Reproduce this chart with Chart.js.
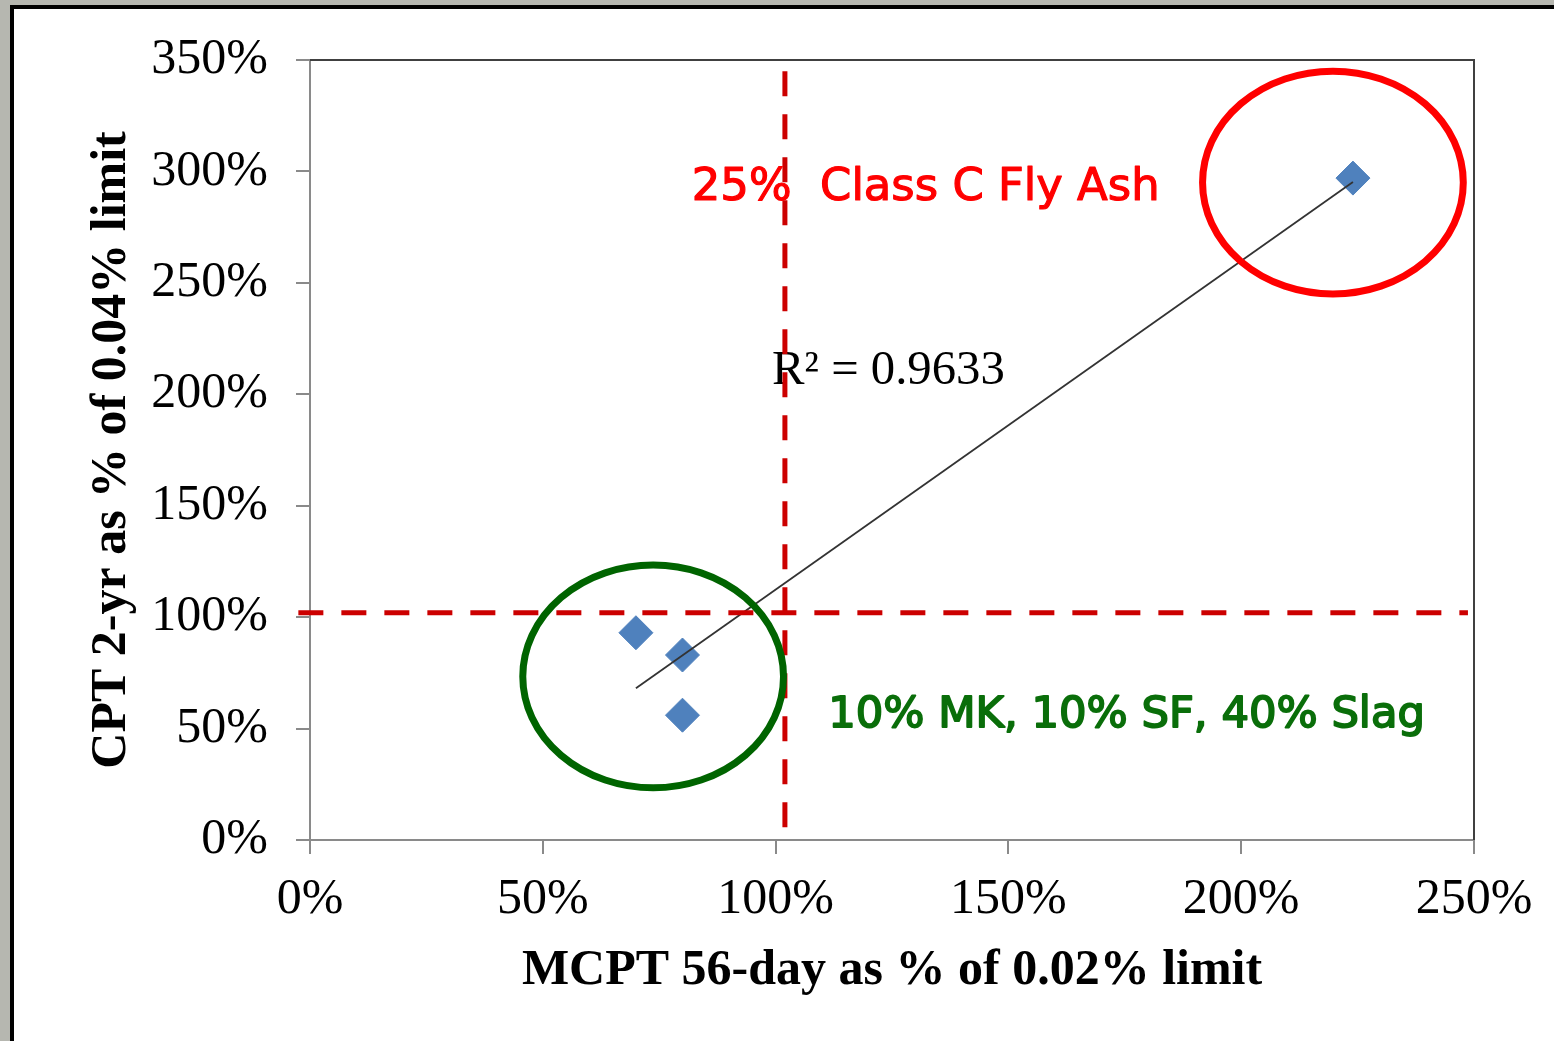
<!DOCTYPE html>
<html>
<head>
<meta charset="utf-8">
<script src="https://cdn.jsdelivr.net/npm/chart.js@4.4.0/dist/chart.umd.min.js"></script>
<style>
  html, body { margin: 0; padding: 0; background: #b6b7b0; overflow: hidden; }
  #frame { position: absolute; left: 10px; top: 5px; width: 1544px; height: 1036px; background: #fff;
           border-left: 4px solid #000; border-top: 4px solid #000; box-sizing: border-box; }
  #chart { position: absolute; left: 0; top: 0; }
</style>
</head>
<body>
<div id="frame"></div>
<canvas id="chart" width="1554" height="1041"></canvas>
<script>
// values (percent)
const mcpt56 = [70, 80, 80, 224];      // MCPT 56-day as % of 0.02% limit
const cpt2yr = [93, 83, 56, 297];      // CPT 2-yr as % of 0.04% limit
const xTicks = [0, 50, 100, 150, 200, 250];
const yTicks = [0, 50, 100, 150, 200, 250, 300, 350];

// red dashed limit lines
const vLimitX = [102, 102];
const vLimitY = [345, 0];
const hLimitX = [-2.5, 248.7];
const hLimitY = [102, 102];

const rSquaredText = 'R\u00b2 = 0.9633';

// linear trendline from the points
function trend(xs, ys) {
    const n = xs.length;
    const mx = xs.reduce((a, b) => a + b, 0) / n;
    const my = ys.reduce((a, b) => a + b, 0) / n;
    let sxy = 0, sxx = 0;
    xs.forEach((x, i) => { sxy += (x - mx) * (ys[i] - my); sxx += (x - mx) * (x - mx); });
    const slope = sxy / sxx;
    const icpt = my - slope * mx;
    const x0 = Math.min(...xs), x1 = Math.max(...xs);
    return [{ x: x0, y: icpt + slope * x0 }, { x: x1, y: icpt + slope * x1 }];
}

const toPts = (xs, ys) => xs.map((x, i) => ({ x: x, y: ys[i] }));

// ellipses and labels placed in data units
const ellipses = [
    { cx: 219.7, cy: 295, rx: 28, ry: 50, color: '#ff0000' },
    { cx: 73.7, cy: 73.4, rx: 28, ry: 50, color: '#006400' }
];
const labels = [
    { text: '25%  Class C Fly Ash', x: 82, y: 287, width: 468, font: '"DejaVu Sans"', color: '#ff0000', thick: 1.2, under: false },
    { text: '10% MK, 10% SF, 40% Slag', x: 111.3, y: 50.7, width: 597, font: '"DejaVu Sans"', color: '#0a6e0a', thick: 1.8, under: false },
    { text: rSquaredText, x: 99.2, y: 204.6, width: 233, font: '"Liberation Serif"', color: '#000', thick: 0, under: true }
];

function drawLabel(ctx, sx, sy, l) {
    ctx.font = '40px ' + l.font;
    const size = 40 * l.width / ctx.measureText(l.text).width;
    ctx.font = size + 'px ' + l.font;
    ctx.fillStyle = l.color;
    ctx.textBaseline = 'alphabetic';
    ctx.textAlign = 'left';
    const px = sx.getPixelForValue(l.x), py = sy.getPixelForValue(l.y);
    ctx.fillText(l.text, px, py);
    if (l.thick) {
        ctx.strokeStyle = l.color;
        ctx.lineWidth = l.thick;
        ctx.lineJoin = 'round';
        ctx.strokeText(l.text, px, py);
    }
}

const extras = {
    id: 'extras',
    beforeDatasetsDraw(chart) {
        const { ctx, chartArea: a, scales: { x, y } } = chart;
        ctx.save();
        // top and right frame of plot area
        ctx.strokeStyle = '#404040';
        ctx.lineWidth = 2;
        ctx.beginPath();
        ctx.moveTo(a.left, a.top);
        ctx.lineTo(a.right, a.top);
        ctx.lineTo(a.right, a.bottom);
        ctx.stroke();
        labels.filter(l => l.under).forEach(l => drawLabel(ctx, x, y, l));
        ctx.restore();
    },
    afterDatasetsDraw(chart) {
        const { ctx, scales: { x, y } } = chart;
        ctx.save();
        ellipses.forEach(e => {
            const cx = x.getPixelForValue(e.cx), cy = y.getPixelForValue(e.cy);
            const rx = Math.abs(x.getPixelForValue(e.cx + e.rx) - cx);
            const ry = Math.abs(y.getPixelForValue(e.cy + e.ry) - cy);
            ctx.beginPath();
            ctx.ellipse(cx, cy, rx, ry, 0, 0, Math.PI * 2);
            ctx.strokeStyle = e.color;
            ctx.lineWidth = 7;
            ctx.stroke();
        });
        labels.filter(l => !l.under).forEach(l => drawLabel(ctx, x, y, l));
        ctx.restore();
    }
};

const serif = 'Liberation Serif';

new Chart(document.getElementById('chart'), {
    type: 'scatter',
    data: {
        datasets: [
            {
                label: 'vertical limit',
                data: toPts(vLimitX, vLimitY),
                showLine: true, pointRadius: 0,
                borderColor: '#cc0000', borderWidth: 5, borderDash: [25, 18],
                clip: false, order: 0
            },
            {
                label: 'horizontal limit',
                data: toPts(hLimitX, hLimitY),
                showLine: true, pointRadius: 0,
                borderColor: '#cc0000', borderWidth: 5, borderDash: [25, 18],
                clip: false, order: 1
            },
            {
                label: 'trend',
                data: trend(mcpt56, cpt2yr),
                showLine: true, pointRadius: 0,
                borderColor: '#333333', borderWidth: 1.8,
                order: 2
            },
            {
                label: 'mixes',
                data: toPts(mcpt56, cpt2yr),
                pointStyle: 'rectRot', pointRadius: 17,
                backgroundColor: '#4f81bd', borderColor: '#4f81bd', borderWidth: 1,
                order: 3
            }
        ]
    },
    options: {
        responsive: false,
        animation: false,
        events: [],
        layout: { padding: { left: 0, top: 60, right: 80, bottom: 0 } },
        plugins: { legend: { display: false }, tooltip: { enabled: false } },
        scales: {
            x: {
                type: 'linear', min: 0, max: 250,
                afterBuildTicks: s => { s.ticks = xTicks.map(v => ({ value: v })); },
                afterFit: s => { s.height = 201; },
                ticks: {
                    callback: v => v + '%',
                    font: { family: serif, size: 50 }, color: '#000',
                    padding: 16, maxRotation: 0, autoSkip: false
                },
                grid: { drawOnChartArea: false, drawTicks: true, tickLength: 14, color: '#8a8a8a', lineWidth: 2 },
                border: { color: '#8a8a8a', width: 2 },
                title: {
                    display: true, text: 'MCPT 56-day as % of 0.02% limit',
                    font: { family: serif, size: 50, weight: 'bold' }, color: '#000',
                    padding: { top: 0, bottom: 40 }
                }
            },
            y: {
                type: 'linear', min: 0, max: 350,
                afterBuildTicks: s => { s.ticks = yTicks.map(v => ({ value: v })); },
                afterFit: s => { s.width = 310; },
                ticks: {
                    callback: v => v + '%',
                    font: { family: serif, size: 50 }, color: '#000',
                    padding: 28, autoSkip: false
                },
                grid: { drawOnChartArea: false, drawTicks: true, tickLength: 14, color: '#8a8a8a', lineWidth: 2 },
                border: { color: '#8a8a8a', width: 2 },
                title: {
                    display: true, text: 'CPT 2-yr as % of 0.04% limit',
                    font: { family: serif, size: 50, weight: 'bold' }, color: '#000',
                    padding: { top: 82, bottom: 0 }
                }
            }
        }
    },
    plugins: [extras]
});
</script>
</body>
</html>
